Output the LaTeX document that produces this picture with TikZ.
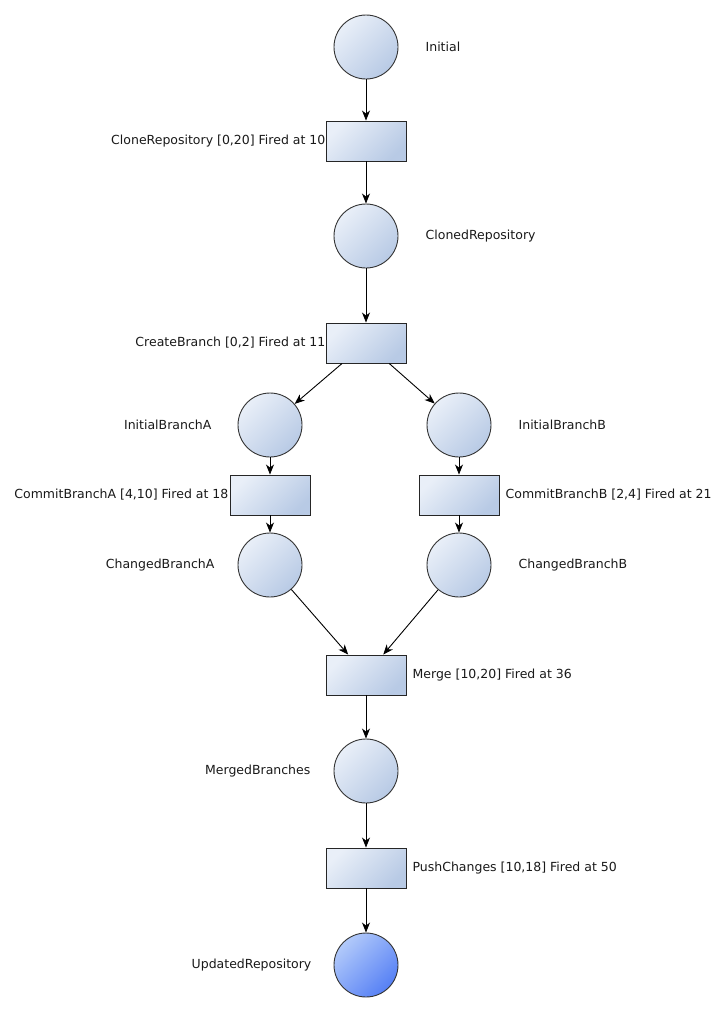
\documentclass[tikz,border=0pt]{standalone}
\usepackage{fontspec}
\setmainfont{DejaVu Sans}
\usetikzlibrary{arrows.meta,positioning}
\definecolor{pale}{RGB}{233,239,248}
\definecolor{steel}{RGB}{184,202,229}
\definecolor{finlight}{RGB}{178,202,250}
\definecolor{findark}{RGB}{86,128,245}
\tikzset{
  place/.style={circle, draw=black!80, line width=0.9pt, minimum size=64pt, inner sep=0pt,
                top color=pale, bottom color=steel, shading angle=45},
  trans/.style={rectangle, draw=black!85, line width=0.9pt, minimum width=80pt, minimum height=40pt,
                inner sep=0pt, top color=pale, bottom color=steel, shading angle=45},
  final/.style={place, top color=finlight, bottom color=findark, shading angle=45},
  ar/.style={-{Stealth[length=10pt,width=8pt,inset=3pt]}, line width=0.9pt},
  lbl/.style={font=\fontsize{12.5}{14}\selectfont, inner sep=0pt, text=black!90},
}

\begin{document}
\begin{tikzpicture}[x=1pt, y=-1pt]
\useasboundingbox (0,0) rectangle (721,1012);
\node[place] (init) at (366,47) {};
\node[trans] (clone) at (366,141) {};
\node[place] (cloned) at (366,236) {};
\node[trans] (create) at (366,343) {};
\node[place] (ia) at (270,425) {};
\node[place] (ib) at (459,425) {};
\node[trans] (ca) at (270,495) {};
\node[trans] (cb) at (459,495) {};
\node[place] (cha) at (270,565) {};
\node[place] (chb) at (459,565) {};
\node[trans] (merge) at (366,675) {};
\node[place] (merged) at (366,771) {};
\node[trans] (push) at (366,868) {};
\node[final] (upd) at (366,965) {};
\node[lbl, right=27pt of init] (initl) {Initial};
\node[lbl, left=0pt of clone] (clonel) {CloneRepository [0,20] Fired at 10};
\node[lbl, right=27pt of cloned] (clonedl) {ClonedRepository};
\node[lbl, left=0pt of create] (createl) {CreateBranch [0,2] Fired at 11};
\node[lbl, left=26pt of ia] (ial) {InitialBranchA};
\node[lbl, right=27pt of ib] (ibl) {InitialBranchB};
\node[lbl, left=1pt of ca] (cal) {CommitBranchA [4,10] Fired at 18};
\node[lbl, right=6pt of cb] (cbl) {CommitBranchB [2,4] Fired at 21};
\node[lbl, left=23pt of cha] (chal) {ChangedBranchA};
\node[lbl, right=27pt of chb] (chbl) {ChangedBranchB};
\node[lbl, right=6pt of merge] (mergel) {Merge [10,20] Fired at 36};
\node[lbl, left=23pt of merged] (mergedl) {MergedBranches};
\node[lbl, right=6pt of push] (pushl) {PushChanges [10,18] Fired at 50};
\node[lbl, left=22pt of upd] (updl) {UpdatedRepository};
\draw[ar] (init)--(clone); \draw[ar] (clone)--(cloned);
\draw[ar] (cloned)--(create);
\draw[ar] (create)--(ia); \draw[ar] (create)--(ib);
\draw[ar] (ia)--(ca); \draw[ar] (ib)--(cb);
\draw[ar] (ca)--(cha); \draw[ar] (cb)--(chb);
\draw[ar] (cha)--(merge); \draw[ar] (chb)--(merge);
\draw[ar] (merge)--(merged); \draw[ar] (merged)--(push);
\draw[ar] (push)--(upd);
\end{tikzpicture}
\end{document}
